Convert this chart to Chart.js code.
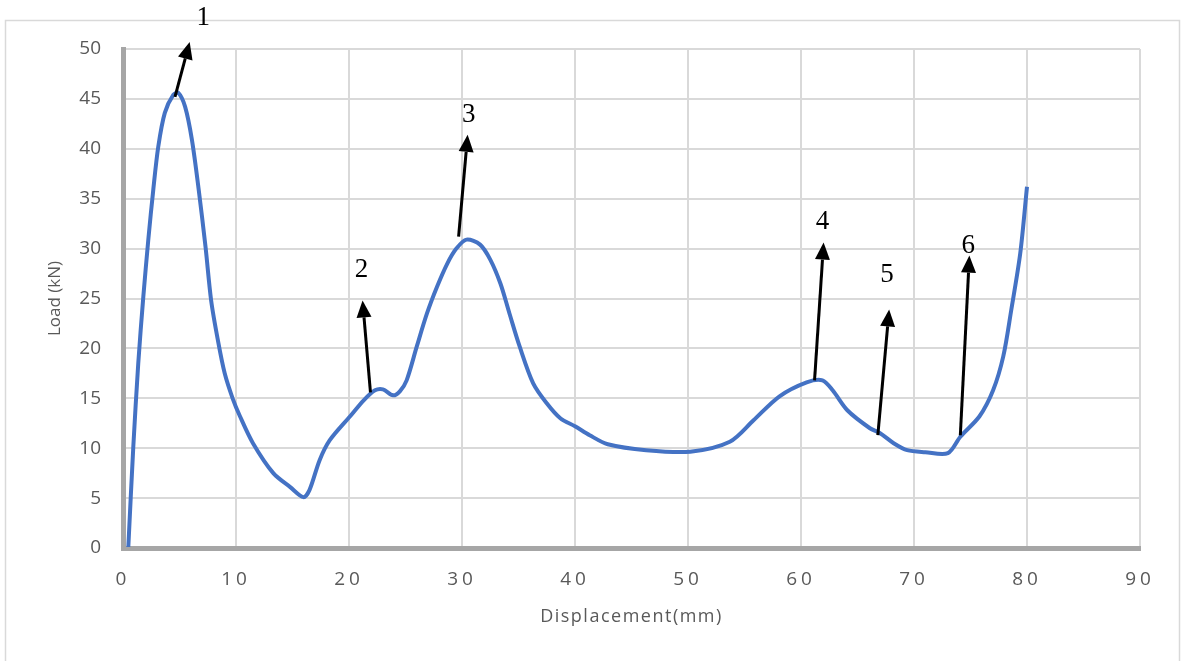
<!DOCTYPE html>
<html lang="en">
<head>
  <meta charset="UTF-8">
  <title>Load vs Displacement</title>
  <script src="https://cdn.jsdelivr.net/npm/chart.js"></script>
  <style>
    body {
      margin: 0;
      background: #ffffff;
    }
    .chart-container {
      position: relative;
      width: 1181px;
      height: 661px;
    }
  </style>
</head>
<body>

  <div class="chart-container">
    <canvas id="loadChart"></canvas>
  </div>

  <script>
    // curve: displacement (mm) and load (kN)
    const displacement = [0.47, 0.91, 1.35, 1.8, 2.24, 2.68, 3.12, 3.7, 4.45, 4.9, 5.5, 6.1, 6.7, 7.3, 7.8, 8.4, 9.0, 9.7,
      10.35, 11.5, 13.3, 14.8, 15.96, 16.5, 17.4, 18.3, 20.1, 21.3, 22.3, 23.0, 23.9, 24.5, 25.1, 26.0, 26.9, 27.8, 28.7,
      29.5, 30.4, 31.6, 32.5, 33.4, 34.2, 35.1, 36.3, 37.5, 38.7, 40.0, 41.3, 42.9, 46.3, 50.2, 53.7, 55.8, 58.1,
      60.5, 61.9, 62.8, 64.1, 66.1, 67.0, 68.2, 69.4, 71.0, 73.0, 74.1, 75.8, 77.0, 77.9, 78.6, 79.4, 80.0];
    const load = [0.1, 10.1, 18.5, 25.2, 30.9, 35.9, 40.2, 43.6, 45.4, 45.6, 44.2, 40.9, 35.9, 30.2, 24.8, 20.8, 17.5, 15.0,
      13.2, 10.5, 7.5, 6.1, 5.1, 5.8, 8.8, 10.8, 13.2, 14.8, 15.8, 15.9, 15.3, 15.7, 16.8, 20.2, 23.5, 26.2, 28.5,
      30.0, 30.9, 30.4, 28.9, 26.5, 23.5, 20.2, 16.5, 14.5, 13.0, 12.2, 11.3, 10.4, 9.8, 9.65, 10.65, 12.8, 15.2,
      16.6, 16.8, 15.8, 13.8, 12.0, 11.5, 10.5, 9.8, 9.6, 9.5, 11.15, 13.2, 15.8, 19.2, 23.8, 29.5, 36.2];

    // numbered arrows (tail on the curve, head above), in data units
    const markLabels = ['1', '2', '3', '4', '5', '6'];
    const tailX = [4.6, 21.9, 29.7, 61.2, 66.8, 74.1];
    const tailY = [45.2, 15.6, 31.2, 16.8, 11.3, 11.3];
    const headX = [5.9, 21.2, 30.5, 62.0, 67.8, 74.9];
    const headY = [50.7, 24.8, 41.4, 30.6, 23.9, 29.3];
    const labelX = [7.1, 21.1, 30.6, 61.9, 67.6, 74.8];
    const labelY = [53.1, 27.9, 43.4, 32.7, 27.4, 30.3];

    const points = displacement.map((x, i) => ({ x: x, y: load[i] }));

    const framePlugin = {
      id: 'frame',
      beforeDraw(chart) {
        const c = chart.ctx;
        c.save();
        c.fillStyle = '#ffffff';
        c.fillRect(0, 0, chart.width, chart.height);
        c.strokeStyle = '#d9d9d9';
        c.lineWidth = 1.5;
        c.strokeRect(5.5, 20.5, 1174, 700);
        c.restore();
      }
    };

    // the x axis text in the picture is widely spaced
    const spacingPlugin = {
      id: 'spacing',
      afterUpdate(chart) {
        const s = chart.scales.x;
        if (s._spaced) return;
        s._spaced = true;
        const labels = s.drawLabels.bind(s);
        const title = s.drawTitle.bind(s);
        s.drawLabels = a => { s.ctx.save(); s.ctx.letterSpacing = '4px'; labels(a); s.ctx.restore(); };
        s.drawTitle = a => { s.ctx.save(); s.ctx.letterSpacing = '1.5px'; title(a); s.ctx.restore(); };
      }
    };

    const arrowPlugin = {
      id: 'arrows',
      afterDraw(chart) {
        const c = chart.ctx;
        const xs = chart.scales.x;
        const ys = chart.scales.y;
        c.save();
        c.strokeStyle = '#000000';
        c.fillStyle = '#000000';
        c.lineWidth = 3;
        markLabels.forEach((lab, i) => {
          const x1 = xs.getPixelForValue(tailX[i]);
          const y1 = ys.getPixelForValue(tailY[i]);
          const x2 = xs.getPixelForValue(headX[i]);
          const y2 = ys.getPixelForValue(headY[i]);
          const ang = Math.atan2(y2 - y1, x2 - x1);
          const len = 17, half = 7.5;
          const bx = x2 - len * Math.cos(ang);
          const by = y2 - len * Math.sin(ang);
          c.beginPath();
          c.moveTo(x1, y1);
          c.lineTo(bx, by);
          c.stroke();
          c.beginPath();
          c.moveTo(x2, y2);
          c.lineTo(bx + half * Math.sin(ang), by - half * Math.cos(ang));
          c.lineTo(bx - half * Math.sin(ang), by + half * Math.cos(ang));
          c.closePath();
          c.fill();

          c.font = '27px "Liberation Serif", serif';
          c.textAlign = 'center';
          c.textBaseline = 'middle';
          c.fillText(lab, xs.getPixelForValue(labelX[i]), ys.getPixelForValue(labelY[i]));
        });
        c.restore();
      }
    };

    const ctx = document.getElementById('loadChart').getContext('2d');

    new Chart(ctx, {
      type: 'scatter',
      data: {
        datasets: [{
          label: 'Load',
          data: points,
          showLine: true,
          borderColor: '#4472c4',
          borderWidth: 4,
          pointRadius: 0,
          tension: 0.3,
          fill: false
        }]
      },
      options: {
        responsive: true,
        maintainAspectRatio: false,
        animation: false,
        layout: { padding: { top: 49, right: 41, bottom: 0, left: 0 } },
        plugins: {
          legend: { display: false },
          tooltip: { enabled: false }
        },
        scales: {
          x: {
            type: 'linear',
            min: 0,
            max: 90,
            afterFit: s => { s.height = 113; },
            ticks: {
              stepSize: 10,
              padding: 20,
              color: '#595959',
              font: { family: '"Open Sans", sans-serif', size: 19 }
            },
            grid: { color: '#d9d9d9', lineWidth: 2, drawTicks: false },
            border: { display: true, color: '#a6a6a6', width: 5 },
            title: {
              display: true,
              text: 'Displacement(mm)',
              color: '#595959',
              font: { family: '"Open Sans", sans-serif', size: 18 },
              padding: { top: 0, bottom: 33 }
            }
          },
          y: {
            min: 0,
            max: 50,
            afterFit: s => { s.width = 123; },
            ticks: {
              stepSize: 5,
              padding: 22,
              color: '#595959',
              font: { family: '"Open Sans", sans-serif', size: 19 }
            },
            grid: { color: '#d9d9d9', lineWidth: 2, drawTicks: false },
            border: { display: true, color: '#a6a6a6', width: 5 },
            title: {
              display: true,
              text: 'Load (kN)',
              color: '#595959',
              font: { family: '"Open Sans", sans-serif', size: 17 },
              padding: { top: 45, bottom: 0 }
            }
          }
        }
      },
      plugins: [framePlugin, spacingPlugin, arrowPlugin]
    });
  </script>

</body>
</html>
